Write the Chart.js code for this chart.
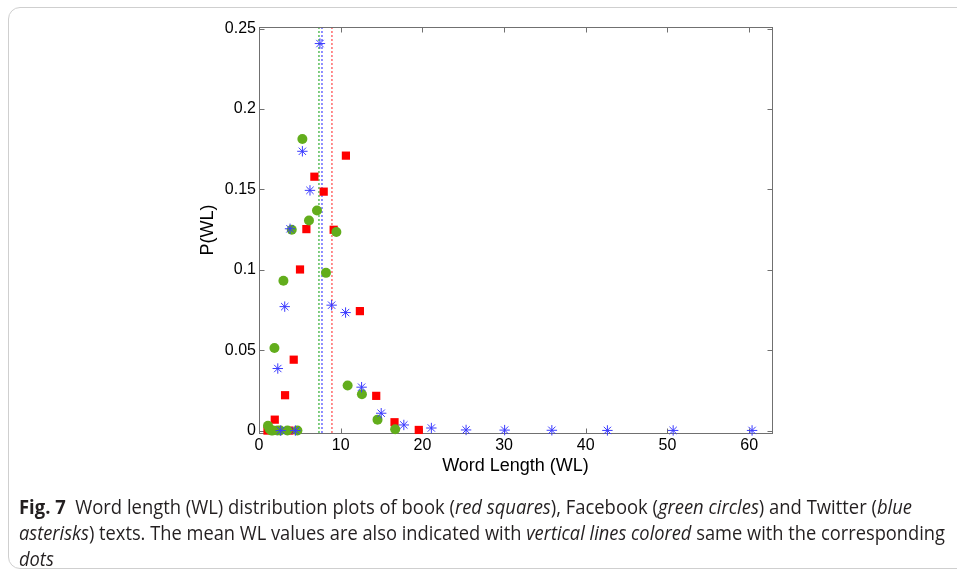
<!DOCTYPE html>
<html>
<head>
<meta charset="utf-8">
<script src="https://cdn.jsdelivr.net/npm/chart.js@4.4.1/dist/chart.umd.min.js"></script>
<style>
  html, body { margin: 0; padding: 0; background: #fff; }
  body { width: 957px; height: 573px; position: relative; overflow: hidden; }
  #card {
    position: absolute; left: 8px; top: 7px; width: 1100px; height: 562px;
    border: 1px solid #cfcfcf; border-radius: 12px; box-sizing: border-box;
  }
  #plot { position: absolute; left: 0; top: 0; }
  .cap {
    position: absolute; left: 19px; white-space: nowrap;
    font-family: "Open Sans", "Noto Sans", sans-serif; font-size: 20px; line-height: 26px;
    color: #231f20; transform-origin: 0 0;
  }
  .cap b { font-weight: 700; }
</style>
</head>
<body>
<div id="card"></div>
<canvas id="plot" width="957" height="573"></canvas>
<div class="cap" id="cap1" data-w="893" style="top:494px"><b>Fig. 7</b>&nbsp; Word length (WL) distribution plots of book (<i>red squares</i>), Facebook (<i>green circles</i>) and Twitter (<i>blue</i></div>
<div class="cap" id="cap2" data-w="926" style="top:520px"><i>asterisks</i>) texts. The mean WL values are also indicated with <i>vertical lines colored</i> same with the corresponding</div>
<div class="cap" id="cap3" style="top:546px"><i>dots</i></div>
<script>
// word length bins (x) and probabilities (y) per corpus
const bookWL = [1.04, 1.93, 3.19, 3.73, 4.25, 5.02, 5.80, 6.78, 7.92, 9.14, 10.64, 12.35, 14.35, 16.59, 19.56];
const bookP  = [0, 0.0068, 0.022, 0, 0.0441, 0.1002, 0.1253, 0.1579, 0.1486, 0.1249, 0.1710, 0.0743, 0.0216, 0.0052, 0.0004];

const fbWL = [1.1, 1.3, 1.5, 1.7, 1.89, 2.25, 2.6, 2.99, 3.48, 4.01, 4.7, 5.31, 6.12, 7.10, 8.20, 9.47, 10.85, 12.6, 14.51, 16.67];
const fbP  = [0.003, 0.001, 0, 0, 0.0514, 0, 0, 0.0932, 0, 0.1249, 0, 0.1814, 0.1307, 0.1369, 0.0981, 0.1235, 0.028, 0.0226, 0.0068, 0.0008];

const twWL = [2.3, 2.66, 3.15, 3.80, 4.45, 5.31, 6.24, 7.46, 8.89, 10.6, 12.56, 14.96, 17.73, 21.1, 25.35, 30.07, 35.85, 42.65, 50.7, 60.36];
const twP  = [0.0386, 0, 0.0771, 0.1255, 0, 0.1737, 0.1494, 0.2407, 0.078, 0.0734, 0.027, 0.0108, 0.0035, 0.0016, 0.0004, 0.0003, 0.0002, 0.0001, 0.0001, 0.0001];

// mean word length of each corpus: book, facebook, twitter
const meanWL = [8.93, 7.34, 7.71];
const meanColors = ['#ff4545', '#2fae2f', '#4343ff'];

const xTicks = [0, 10, 20, 30, 40, 50, 60];
const yTicks = [0, 0.05, 0.1, 0.15, 0.2, 0.25];

function pts(xs, ys) {
  return xs.map((x, i) => ({ x, y: ys[i] }));
}

const axisFont = { family: 'Liberation Sans, Arial, sans-serif', size: 16 };
const titleFont = { family: 'Liberation Sans, Arial, sans-serif', size: 18 };

// box around the axes with inward tick marks on all four sides, plus mean lines
const framePlugin = {
  id: 'frame',
  beforeDatasetsDraw(chart) {
    const { ctx, chartArea: a, scales } = chart;
    ctx.save();
    ctx.lineWidth = 1.2;
    meanWL.forEach((m, i) => {
      const x = scales.x.getPixelForValue(m);
      ctx.strokeStyle = meanColors[i];
      ctx.setLineDash([2, 2]);
      ctx.beginPath();
      ctx.moveTo(x, a.top);
      ctx.lineTo(x, a.bottom);
      ctx.stroke();
    });
    ctx.setLineDash([]);
    ctx.lineWidth = 1;
    ctx.strokeStyle = '#707070';
    const l = Math.round(a.left) + 0.5, r = Math.round(a.right) + 0.5;
    const t = Math.round(a.top) + 0.5, b = Math.round(a.bottom) + 0.5;
    ctx.strokeRect(l, t, r - l, b - t);
    ctx.beginPath();
    xTicks.forEach(v => {
      const x = Math.round(scales.x.getPixelForValue(v)) + 0.5;
      ctx.moveTo(x, b); ctx.lineTo(x, b - 5);
      ctx.moveTo(x, t); ctx.lineTo(x, t + 5);
    });
    yTicks.forEach(v => {
      const y = Math.round(scales.y.getPixelForValue(v)) + 0.5;
      ctx.moveTo(l, y); ctx.lineTo(l + 5, y);
      ctx.moveTo(r, y); ctx.lineTo(r - 5, y);
    });
    ctx.stroke();
    ctx.restore();
  }
};

new Chart(document.getElementById('plot'), {
  type: 'scatter',
  data: {
    datasets: [
      {
        label: 'book',
        data: pts(bookWL, bookP),
        order: 2,
        pointStyle: 'rect',
        pointRadius: 5.8,
        backgroundColor: '#ff0000',
        borderColor: '#ff0000',
        borderWidth: 0,
        clip: false,
      },
      {
        label: 'Facebook',
        data: pts(fbWL, fbP),
        order: 1,
        pointStyle: 'circle',
        pointRadius: 5,
        backgroundColor: '#62ad1c',
        borderColor: '#62ad1c',
        borderWidth: 0,
        clip: false,
      },
      {
        label: 'Twitter',
        data: pts(twWL, twP),
        order: 0,
        pointStyle: 'star',
        pointRadius: 5.2,
        backgroundColor: '#3a3aff',
        borderColor: '#3a3aff',
        borderWidth: 1,
        clip: false,
      },
    ],
  },
  options: {
    responsive: false,
    animation: false,
    events: [],
    layout: { padding: { left: 189, top: 27, right: 185, bottom: 96 } },
    plugins: { legend: { display: false }, tooltip: { enabled: false } },
    scales: {
      x: {
        type: 'linear',
        min: 0,
        max: 62.8,
        afterFit: (s) => { s.height = 44; },
        afterBuildTicks: (s) => { s.ticks = xTicks.map(v => ({ value: v })); },
        grid: { display: false, drawTicks: false },
        border: { display: false },
        ticks: { padding: 3, color: '#000', font: axisFont },
        title: {
          display: true,
          text: 'Word Length (WL)',
          color: '#000',
          padding: { top: 0, bottom: 0 },
          font: titleFont,
        },
      },
      y: {
        type: 'linear',
        min: -0.0015,
        max: 0.251,
        afterFit: (s) => { s.width = 70; },
        afterBuildTicks: (s) => { s.ticks = yTicks.map(v => ({ value: v })); },
        grid: { display: false, drawTicks: false },
        border: { display: false },
        ticks: {
          padding: 3,
          color: '#000',
          font: axisFont,
          callback: (v) => String(+v.toFixed(3)),
        },
        title: {
          display: true,
          text: 'P(WL)',
          color: '#000',
          padding: { top: 8, bottom: 0 },
          font: titleFont,
        },
      },
    },
  },
  plugins: [framePlugin],
});

// squeeze caption lines to the column width
['cap1', 'cap2'].forEach(id => {
  const el = document.getElementById(id);
  const k = +el.dataset.w / el.getBoundingClientRect().width;
  el.style.transform = 'scaleX(' + k + ')';
  if (id === 'cap2') document.getElementById('cap3').style.transform = 'scaleX(' + k + ')';
});
</script>
</body>
</html>
